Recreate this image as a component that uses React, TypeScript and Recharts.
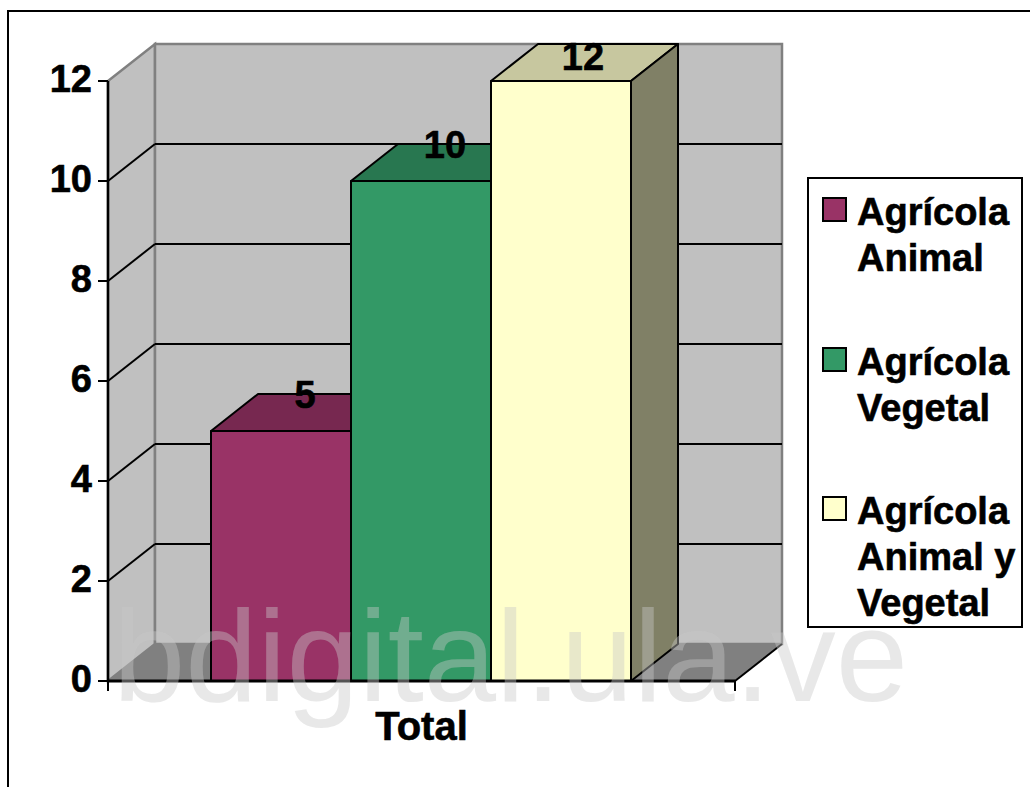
import React from "react";
import {
  BarChart,
  Bar,
  XAxis,
  YAxis,
  Legend,
  LabelList,
  usePlotArea,
} from "recharts";

const categories = ["Total"];
const seriesNames = ["Agrícola Animal", "Agrícola Vegetal", "Agrícola Animal y Vegetal"];
const animalValues = [5];
const vegetalValues = [10];
const mixedValues = [12];
const yTicks = [0, 2, 4, 6, 8, 10, 12];

const data = categories.map((name, i) => ({
  name,
  animal: animalValues[i],
  vegetal: vegetalValues[i],
  mixed: mixedValues[i],
}));

const DEPTH_X = 47;
const DEPTH_Y = 37;
const FONT = "'Liberation Sans', Arial, sans-serif";
const Y_MAX = 12;
// value labels get pushed down when they would leave the plot
const LABEL_MIN_BASELINE = 70;

const shade = (hex: string, k: number) => {
  const n = parseInt(hex.slice(1), 16);
  const c = (v: number) => Math.round(v * k);
  return `rgb(${c((n >> 16) & 255)},${c((n >> 8) & 255)},${c(n & 255)})`;
};

// walls, floor and grid of the 3D box, behind the bars
const Walls = () => {
  const plot = usePlotArea();
  if (!plot) return null;
  const { x, y, width, height } = plot;
  const bottom = y + height;
  const right = x + width;
  const yOf = (v: number) => bottom - (v / Y_MAX) * height;
  return (
    <g>
      <polygon
        points={`${x},${y} ${x + DEPTH_X},${y - DEPTH_Y} ${x + DEPTH_X},${bottom - DEPTH_Y} ${x},${bottom}`}
        fill="#c0c0c0"
        stroke="#808080"
        strokeWidth={2.5}
      />
      <rect
        x={x + DEPTH_X}
        y={y - DEPTH_Y}
        width={width}
        height={height}
        fill="#c0c0c0"
        stroke="#808080"
        strokeWidth={2.5}
      />
      <polygon
        points={`${x},${bottom} ${right},${bottom} ${right + DEPTH_X},${bottom - DEPTH_Y} ${x + DEPTH_X},${bottom - DEPTH_Y}`}
        fill="#808080"
      />
      <line x1={right} y1={bottom} x2={right + DEPTH_X} y2={bottom - DEPTH_Y} stroke="#000" strokeWidth={2} />
      {yTicks
        .filter((t) => t > 0 && t < Y_MAX)
        .map((t) => (
          <g key={t} stroke="#000" strokeWidth={2}>
            <line x1={x} y1={yOf(t)} x2={x + DEPTH_X} y2={yOf(t) - DEPTH_Y} />
            <line x1={x + DEPTH_X} y1={yOf(t) - DEPTH_Y} x2={right + DEPTH_X} y2={yOf(t) - DEPTH_Y} />
          </g>
        ))}
      <line x1={x} y1={bottom} x2={x} y2={bottom + 10} stroke="#000" strokeWidth={2} />
      <line x1={right} y1={bottom} x2={right} y2={bottom + 10} stroke="#000" strokeWidth={2} />
    </g>
  );
};

const Bar3D = (props: any) => {
  const { x, y, width, height, fill } = props;
  const dx = DEPTH_X;
  const dy = DEPTH_Y;
  return (
    <g stroke="#000" strokeWidth={2} strokeLinejoin="round">
      <polygon
        points={`${x},${y} ${x + dx},${y - dy} ${x + width + dx},${y - dy} ${x + width},${y}`}
        fill={shade(fill, 0.78)}
      />
      <polygon
        points={`${x + width},${y} ${x + width + dx},${y - dy} ${x + width + dx},${y + height - dy} ${x + width},${y + height}`}
        fill={shade(fill, 0.5)}
      />
      <rect x={x} y={y} width={width} height={height} fill={fill} />
    </g>
  );
};

const TopLabel = (props: any) => {
  const { x, y, width, value } = props;
  const baseline = y - 23;
  const clamped = baseline < LABEL_MIN_BASELINE;
  return (
    <text
      x={x + width / 2 + (clamped ? 22 : 24)}
      y={Math.max(baseline, LABEL_MIN_BASELINE)}
      textAnchor="middle"
      fontFamily={FONT}
      fontWeight={700}
      fontSize={38}
      fill="#000"
      stroke="#000"
      strokeWidth={0.6}
    >
      {value}
    </text>
  );
};

const YTick = (props: any) => {
  const { x, y, payload } = props;
  return (
    <text
      x={x}
      y={y + 11}
      textAnchor="end"
      fontFamily={FONT}
      fontWeight={700}
      fontSize={38}
      fill="#000"
      stroke="#000"
      strokeWidth={0.6}
    >
      {payload.value}
    </text>
  );
};

const LegendBox = ({ payload }: any) => (
  <div
    style={{
      boxSizing: "border-box",
      width: 216,
      height: 451,
      border: "2px solid #000",
      background: "#fff",
      position: "relative",
      fontFamily: FONT,
      fontWeight: 700,
      fontSize: 38,
      lineHeight: "46px",
      color: "#000",
      WebkitTextStroke: "0.6px #000",
    }}
  >
    {(payload || []).map((entry: any, i: number) => (
      <div
        key={entry.value}
        style={{ position: "absolute", left: 48, top: [10, 160, 309][i], width: 166 }}
      >
        <span
          style={{
            position: "absolute",
            left: -35,
            top: 8,
            width: 25,
            height: 25,
            boxSizing: "border-box",
            border: "2px solid #000",
            background: entry.color,
          }}
        />
        {entry.value}
      </div>
    ))}
  </div>
);

export default function App() {
  return (
    <div style={{ position: "absolute", left: 0, top: 0, width: 1030, height: 787, overflow: "hidden", background: "#fff" }}>
      <div
        style={{
          position: "absolute",
          left: 7,
          top: 10,
          right: 0,
          bottom: 0,
          borderLeft: "2px solid #000",
          borderTop: "2px solid #000",
        }}
      />
      <BarChart
        width={1030}
        height={787}
        data={data}
        margin={{ top: 81, right: 295, bottom: 0, left: 0 }}
        barGap={0}
        barCategoryGap={103}
        style={{ position: "absolute", left: 0, top: 0 }}
      >
        <Walls />
        <XAxis
          dataKey="name"
          height={106}
          tickLine={false}
          axisLine={{ stroke: "#000", strokeWidth: 3 }}
          tickMargin={25}
          tick={{ fontFamily: FONT, fontWeight: 700, fontSize: 40, fill: "#000", stroke: "#000", strokeWidth: 0.6 }}
        />
        <YAxis
          width={108}
          domain={[0, Y_MAX]}
          ticks={yTicks}
          interval={0}
          tickSize={10}
          tickMargin={6}
          tickLine={{ stroke: "#000", strokeWidth: 2 }}
          axisLine={{ stroke: "#000", strokeWidth: 2.5 }}
          tick={<YTick />}
        />
        <Legend
          layout="vertical"
          align="center"
          verticalAlign="middle"
          itemSorter={null}
          content={<LegendBox />}
          wrapperStyle={{ left: 807, top: 177, width: 216, height: 451 }}
        />
        <Bar dataKey="animal" name={seriesNames[0]} fill="#993366" shape={<Bar3D />} isAnimationActive={false}>
          <LabelList dataKey="animal" content={<TopLabel />} />
        </Bar>
        <Bar dataKey="vegetal" name={seriesNames[1]} fill="#339966" shape={<Bar3D />} isAnimationActive={false}>
          <LabelList dataKey="vegetal" content={<TopLabel />} />
        </Bar>
        <Bar dataKey="mixed" name={seriesNames[2]} fill="#FFFFCC" shape={<Bar3D />} isAnimationActive={false}>
          <LabelList dataKey="mixed" content={<TopLabel />} />
        </Bar>
      </BarChart>
      {/* watermark sits over everything */}
      <div
        style={{
          position: "absolute",
          left: 113,
          top: 581,
          fontFamily: FONT,
          fontSize: 130,
          lineHeight: "150px",
          color: "rgba(200,200,200,0.42)",
          whiteSpace: "nowrap",
          pointerEvents: "none",
        }}
      >
        bdigital.ula.ve
      </div>
    </div>
  );
}
